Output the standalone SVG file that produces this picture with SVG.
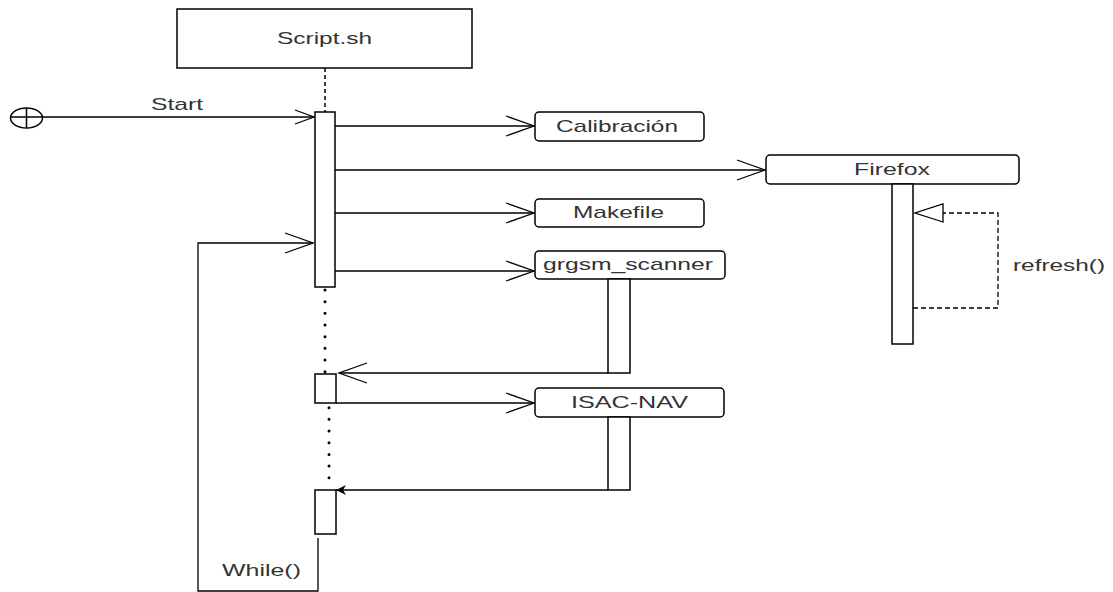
<svg xmlns="http://www.w3.org/2000/svg" width="1113" height="592" viewBox="0 0 1113 592">
  <style>
    .box { fill: #ffffff; stroke: #000000; stroke-width: 1.5; }
    .bar { fill: #ffffff; stroke: #000000; stroke-width: 1.5; }
    .msg { fill: none; stroke: #000000; stroke-width: 1.3; }
    .life { fill: none; stroke: #000000; stroke-width: 1.5; stroke-dasharray: 4 3; }
    .dots { fill: none; stroke: #000000; stroke-width: 3; stroke-linecap: round; stroke-dasharray: 0 11.67; }
    .dash { fill: none; stroke: #000000; stroke-width: 1.3; stroke-dasharray: 5 3; }
    .lbl { font-family: "Liberation Sans", Arial, sans-serif; font-size: 17px; fill: #333333; }
  </style>
  <defs>
    <marker id="open" markerUnits="userSpaceOnUse" markerWidth="32" markerHeight="24" refX="29" refY="11" orient="auto">
      <path d="M1,1 L29,11 L1,21" fill="none" stroke="#000000" stroke-width="1.3"/>
    </marker>
    <marker id="openSmall" markerUnits="userSpaceOnUse" markerWidth="24" markerHeight="18" refX="20" refY="8" orient="auto">
      <path d="M1,1 L20,8 L1,15" fill="none" stroke="#000000" stroke-width="1.3"/>
    </marker>
    <marker id="hollow" markerUnits="userSpaceOnUse" markerWidth="32" markerHeight="22" refX="29" refY="10" orient="auto">
      <path d="M1,1 L29,10 L1,19 Z" fill="#ffffff" stroke="#000000" stroke-width="1.3"/>
    </marker>
    <marker id="classic" markerUnits="userSpaceOnUse" markerWidth="12" markerHeight="12" refX="10" refY="5" orient="auto">
      <path d="M0,0 L10,5 L0,10 L3,5 Z" fill="#000000"/>
    </marker>
  </defs>

  <!-- lifelines and messages -->
  <g id="connectors">
    <line class="life" x1="325" y1="68" x2="325" y2="112"/>
    <line class="dots" x1="325" y1="290" x2="325" y2="374"/>
    <line class="dots" x1="329" y1="407.7" x2="329" y2="480"/>

    <!-- start -->
    <line class="msg" x1="42" y1="117" x2="314" y2="117" marker-end="url(#openSmall)"/>
    <text class="lbl" x="177" y="110" text-anchor="middle" textLength="52" lengthAdjust="spacingAndGlyphs">Start</text>

    <!-- calls out of Script.sh -->
    <line class="msg" x1="335" y1="126" x2="534" y2="126" marker-end="url(#open)"/>
    <line class="msg" x1="335" y1="170" x2="765" y2="170" marker-end="url(#open)"/>
    <line class="msg" x1="335" y1="213" x2="534" y2="213" marker-end="url(#open)"/>
    <line class="msg" x1="333" y1="271" x2="534" y2="271" marker-end="url(#open)"/>

    <!-- return from grgsm_scanner -->
    <line class="msg" x1="608" y1="373" x2="339" y2="373" marker-end="url(#open)"/>
    <!-- call to ISAC-NAV -->
    <line class="msg" x1="336" y1="403" x2="534" y2="403" marker-end="url(#open)"/>
    <!-- return from ISAC-NAV -->
    <line class="msg" x1="608" y1="490" x2="336" y2="490" marker-end="url(#classic)"/>

    <!-- loop back -->
    <path class="msg" d="M318,538 V591 H198 V243 H313" marker-end="url(#open)"/>
    <text class="lbl" x="222" y="576" textLength="79" lengthAdjust="spacingAndGlyphs">While()</text>

    <!-- Firefox self refresh -->
    <path class="dash" d="M913,308 H998 V213 H915" marker-end="url(#hollow)"/>
    <text class="lbl" x="1013" y="271" textLength="92" lengthAdjust="spacingAndGlyphs">refresh()</text>
  </g>

  <g id="script">
    <rect class="box" x="177" y="9" width="295" height="59"/>
    <text class="lbl" x="324.5" y="44" text-anchor="middle" textLength="95" lengthAdjust="spacingAndGlyphs">Script.sh</text>
    <rect class="bar" x="315" y="112" width="20" height="175"/>
    <rect class="bar" x="315" y="374" width="21" height="29"/>
    <rect class="bar" x="315" y="490" width="21" height="44"/>
  </g>

  <g id="calibracion">
    <rect class="box" x="535" y="112" width="169" height="29" rx="4"/>
    <text class="lbl" x="617" y="131.5" text-anchor="middle" textLength="122" lengthAdjust="spacingAndGlyphs">Calibración</text>
  </g>

  <g id="firefox">
    <rect class="box" x="766" y="155" width="253" height="29" rx="4"/>
    <text class="lbl" x="892" y="175" text-anchor="middle" textLength="76" lengthAdjust="spacingAndGlyphs">Firefox</text>
    <rect class="bar" x="892" y="184" width="21" height="160"/>
  </g>

  <g id="makefile">
    <rect class="box" x="535" y="199" width="169" height="28" rx="4"/>
    <text class="lbl" x="618.5" y="218" text-anchor="middle" textLength="91" lengthAdjust="spacingAndGlyphs">Makefile</text>
  </g>

  <g id="grgsm_scanner">
    <rect class="box" x="535" y="251" width="190" height="28" rx="4"/>
    <text class="lbl" x="628" y="270" text-anchor="middle" textLength="170" lengthAdjust="spacingAndGlyphs">grgsm_scanner</text>
    <rect class="bar" x="608" y="279" width="22" height="94"/>
  </g>

  <g id="isac_nav">
    <rect class="box" x="535" y="388" width="189" height="29" rx="4"/>
    <text class="lbl" x="629.5" y="408" text-anchor="middle" textLength="117" lengthAdjust="spacingAndGlyphs">ISAC-NAV</text>
    <rect class="bar" x="608" y="417" width="22" height="73"/>
  </g>

  <g id="start">
    <ellipse cx="26.5" cy="118" rx="16" ry="10" fill="#ffffff" stroke="#000000" stroke-width="1.5"/>
    <line x1="26.5" y1="108" x2="26.5" y2="128" stroke="#000000" stroke-width="1.5"/>
    <line x1="10.5" y1="117" x2="42.5" y2="117" stroke="#000000" stroke-width="1.5"/>
  </g>
</svg>
